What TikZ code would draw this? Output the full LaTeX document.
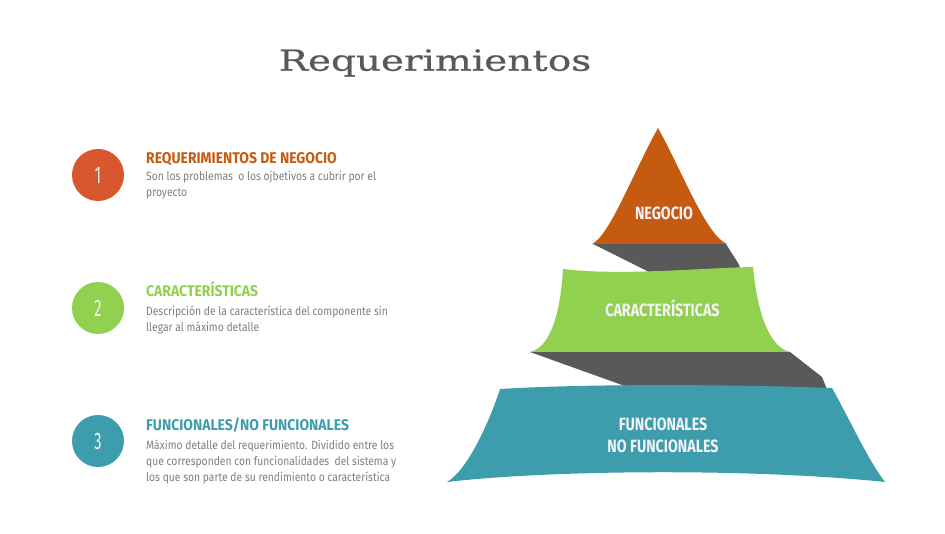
\documentclass[tikz,border=0pt]{standalone}
\usepackage{fontspec}
\newfontfamily\titlefont[FakeStretch=1.34,FakeBold=0.6]{DejaVu Serif}
\newfontfamily\bodyfont[FakeStretch=0.86]{Fira Sans}
\newfontfamily\headfont[FakeStretch=0.9]{Fira Sans}
\newfontfamily\numfont[FakeStretch=0.6]{Fira Sans}
\newfontfamily\pyrfont[FakeStretch=0.8]{Fira Sans}
\definecolor{titlegray}{HTML}{595959}
\definecolor{bodygray}{HTML}{7F7F7F}
\definecolor{circorange}{HTML}{D9572F}
\definecolor{darkorange}{HTML}{C55A11}
\definecolor{lgreen}{HTML}{92D050}
\definecolor{teal}{HTML}{3E9DAC}
\definecolor{shadowgray}{HTML}{595959}
\definecolor{offwhite}{HTML}{F4F2F8}
\begin{document}
\begin{tikzpicture}[x=1pt,y=-1pt,
  numcircle/.style={circle,minimum size=52pt,inner sep=0pt,text=offwhite,font=\numfont\fontsize{24}{24}\selectfont},
  heading/.style={anchor=base west,inner sep=0pt,font=\headfont\bfseries\fontsize{15.5}{17}\selectfont},
  bodyline/.style={anchor=base west,inner sep=0pt,text=bodygray,font=\bodyfont\fontsize{12}{14}\selectfont},
  pyrtext/.style={anchor=base,inner sep=0pt,text=offwhite,font=\pyrfont\bfseries\fontsize{17.8}{20}\selectfont},
  band/.style={fill=shadowgray,draw=none}]
\useasboundingbox[fill=white] (0,0) rectangle (945,534);

% title
\node[anchor=base,inner sep=0pt,text=titlegray,font=\titlefont\fontsize{29}{32}\selectfont] (title) at (435,70.7) {Requerimientos};

% left list
\node[numcircle,fill=circorange] (c1) at (98,175) {1};
\node[numcircle,fill=lgreen] (c2) at (98,308) {2};
\node[numcircle,fill=teal] (c3) at (98,441) {3};

\node[heading,text=darkorange] (h1) at (146,164) {REQUERIMIENTOS DE NEGOCIO};
\node[bodyline] (b1a) at (146,180.7) {Son los problemas\ \ o los ojbetivos a cubrir por el};
\node[bodyline] (b1b) at (146,196.7) {proyecto};

\node[heading,text=lgreen] (h2) at (146,297) {CARACTERÍSTICAS};
\node[bodyline] (b2a) at (146,315.7) {Descripción de la característica del componente sin};
\node[bodyline] (b2b) at (146,331.3) {llegar al máximo detalle};

\node[heading,text=teal] (h3) at (146,431) {FUNCIONALES/NO FUNCIONALES};
\node[bodyline] (b3a) at (146,449) {Máximo detalle del requerimiento. Dividido entre los};
\node[bodyline] (b3b) at (146,465.7) {que corresponden con funcionalidades\ \ del sistema y};
\node[bodyline] (b3c) at (146,481.7) {los que son parte de su rendimiento o característica};

% pyramid: shadow bands
\path[band] (593,244) -- (726,244) -- (738,263) -- (742,272) -- (665,280) -- cycle;
\path[band] (530,352) -- (790,352) -- (822,377) -- (828,392) -- (650,395) -- cycle;

% top
\path[fill=darkorange] (658,128) .. controls (632,175) and (610,235) .. (592,244)
  -- (727,244) .. controls (706,235) and (684,175) .. (658,128) -- cycle;
% middle
\path[fill=lgreen] (563,269) .. controls (620,276) and (700,268) .. (753,267)
  .. controls (758,320) and (772,348) .. (790,352)
  -- (530,352) .. controls (548,348) and (560,320) .. (563,269) -- cycle;
% bottom
\path[fill=teal] (500,389) .. controls (580,384) and (720,384) .. (832,388)
  .. controls (850,420) and (868,460) .. (885,482)
  .. controls (750,468) and (550,470) .. (447,482)
  .. controls (468,470) and (490,420) .. (500,389) -- cycle;

\node[pyrtext] (t1) at (664,220) {NEGOCIO};
\node[pyrtext] (t2) at (662.5,317) {CARACTERÍSTICAS};
\node[pyrtext] (t3a) at (663,430) {FUNCIONALES};
\node[pyrtext] (t3b) at (663,452.7) {NO FUNCIONALES};
\end{tikzpicture}
\end{document}
